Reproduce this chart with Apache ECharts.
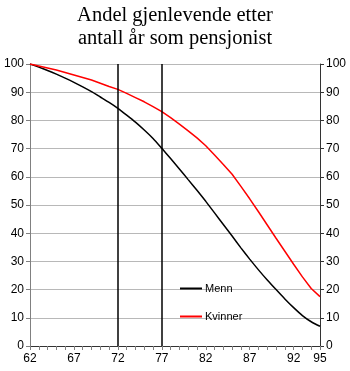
<!DOCTYPE html>
<html><head><meta charset="utf-8">
<script src="https://cdn.jsdelivr.net/npm/echarts@6/dist/echarts.min.js"></script>
<style>html,body{margin:0;padding:0;background:#fff}#c{width:350px;height:371px}</style>
</head><body><div id="c"></div>
<script>
var ages = [62,63,64,65,66,67,68,69,70,71,72,73,74,75,76,77,78,79,80,81,82,83,84,85,86,87,88,89,90,91,92,93,94,95];
var menn = [100,98.9,97.7,96.4,95.0,93.5,91.9,90.2,88.3,86.4,84.3,81.9,79.4,76.6,73.6,70.1,66.5,62.8,59.0,55.2,51.3,47.2,43.1,39.0,34.8,30.8,27.0,23.4,20.0,16.7,13.6,10.8,8.6,7.0];
var kvinner = [100,99.3,98.6,97.9,97.0,96.1,95.2,94.3,93.2,92.0,91.0,89.6,88.1,86.6,84.9,83.1,81.0,78.7,76.3,73.8,71.0,67.7,64.4,60.9,56.6,52.2,47.6,42.9,38.2,33.6,29.0,24.5,20.4,17.5];
var xLabels = ['62','67','72','77','82','87','92','95'];
var markAges = ['72','77'];
var titleText = 'Andel gjenlevende etter\nantall år som pensjonist';
var chart = echarts.init(document.getElementById('c'));
var lbl = {color:'#000', fontSize:12, fontFamily:'Liberation Sans, Arial, sans-serif'};
chart.setOption({
  animation:false,
  title:{text:titleText,left:'center',top:-1,textStyle:{fontFamily:'Liberation Serif, Times New Roman, serif',fontWeight:'normal',fontSize:20.5,lineHeight:23,color:'#000'}},
  grid:{left:30,right:30,top:64,bottom:25,containLabel:false},
  legend:{orient:'vertical',left:175,top:278,itemWidth:22,itemHeight:2,itemGap:17,icon:'rect',
    textStyle:{color:'#000',fontSize:11,fontFamily:'Liberation Sans, Arial, sans-serif',padding:[0,0,0,-2]},
    data:[{name:'Menn'},{name:'Kvinner'}]},
  xAxis:[{type:'category',data:ages.map(String),boundaryGap:false,
    axisLine:{lineStyle:{color:'#808080',width:1}},
    axisTick:{show:true,interval:0,length:4,lineStyle:{color:'#808080'}},
    axisLabel:Object.assign({interval:0,margin:7,formatter:function(v){return xLabels.indexOf(v)>=0?v:'';}},lbl),
    splitLine:{show:false}},
   {type:'category',position:'top',data:ages.map(String),boundaryGap:false,
    axisLine:{show:true,lineStyle:{color:'#333',width:1}},axisTick:{show:false},axisLabel:{show:false},splitLine:{show:false}}],
  yAxis:[{type:'value',min:0,max:100,interval:10,
    axisLine:{show:true,lineStyle:{color:'#808080'}},axisTick:{show:true,length:4,lineStyle:{color:'#808080'}},
    axisLabel:Object.assign({margin:6},lbl),
    splitLine:{show:true,lineStyle:{color:'#b8b8b8',width:1}}},
   {type:'value',min:0,max:100,interval:10,position:'right',
    axisLine:{show:true,lineStyle:{color:'#333'}},axisTick:{show:true,length:4,lineStyle:{color:'#333'}},
    axisLabel:Object.assign({margin:6},lbl),splitLine:{show:false}}],
  series:[
   {name:'Menn',type:'line',data:menn,symbol:'none',smooth:0.2,lineStyle:{color:'#000',width:1.5},itemStyle:{color:'#000'},
    markLine:{silent:true,symbol:'none',label:{show:false},lineStyle:{color:'#000',width:1.5,type:'solid'},
      data:markAges.map(function(a){return {xAxis:a};})}},
   {name:'Kvinner',type:'line',data:kvinner,symbol:'none',smooth:false,lineStyle:{color:'#ff0000',width:1.5},itemStyle:{color:'#ff0000'}}
  ]
});
</script></body></html>
